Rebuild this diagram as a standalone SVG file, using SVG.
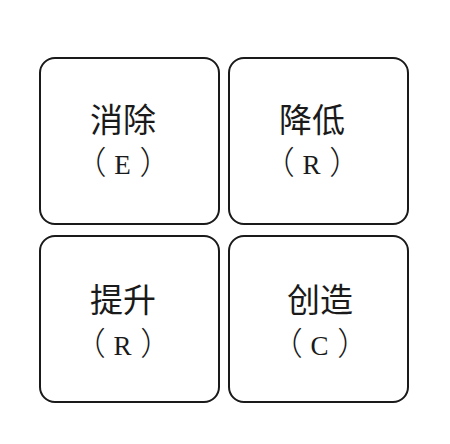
<svg xmlns="http://www.w3.org/2000/svg" width="450" height="444" viewBox="0 0 450 444">
<style>
.box{fill:#fff;stroke:#1a1a1a;stroke-width:2}
.t1{font-family:"Noto Sans CJK SC","Liberation Serif",serif;font-size:33px;fill:#1a1a1a;text-anchor:middle}
.t2{font-family:"Liberation Serif","Noto Sans CJK SC",serif;font-size:32px;fill:#1a1a1a;text-anchor:middle;font-weight:300}
.l{font-size:27px;letter-spacing:1px}
</style>
<rect width="450" height="444" fill="#fff"/>
<g id="eliminate">
<rect class="box" x="40" y="58" width="179" height="166" rx="15"/>
<text class="t1" x="123" y="132">消除</text>
<text class="t2" x="123" y="174">（<tspan class="l"> E </tspan>）</text>
</g>
<g id="reduce">
<rect class="box" x="229" y="58" width="179" height="166" rx="15"/>
<text class="t1" x="312" y="132">降低</text>
<text class="t2" x="312" y="174">（<tspan class="l"> R </tspan>）</text>
</g>
<g id="raise">
<rect class="box" x="40" y="236" width="179" height="166" rx="15"/>
<text class="t1" x="123" y="312">提升</text>
<text class="t2" x="123" y="355">（<tspan class="l"> R </tspan>）</text>
</g>
<g id="create">
<rect class="box" x="229" y="236" width="179" height="166" rx="15"/>
<text class="t1" x="320" y="312">创造</text>
<text class="t2" x="320" y="355">（<tspan class="l"> C </tspan>）</text>
</g>
<g id="connectors"/>
</svg>
